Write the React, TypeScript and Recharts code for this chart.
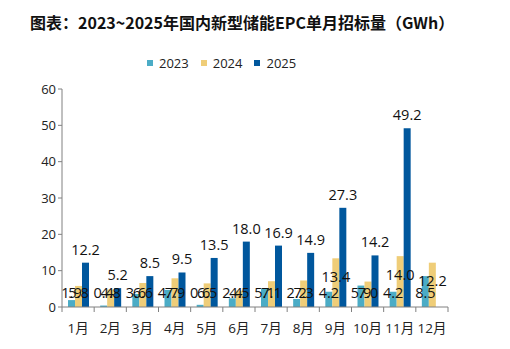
import { BarChart, Bar, XAxis, YAxis, LabelList } from 'recharts';

const months = ['1月', '2月', '3月', '4月', '5月', '6月', '7月', '8月', '9月', '10月', '11月', '12月'];
const y2023 = [1.9, 0.4, 3.6, 4.7, 0.6, 2.4, 5.1, 2.2, 4.2, 5.9, 4.2, 8.5];
const y2024 = [5.8, 4.8, 6.6, 7.9, 6.5, 4.5, 7.1, 7.3, 13.4, 7.0, 14.0, 12.2];
const y2025 = [12.2, 5.2, 8.5, 9.5, 13.5, 18.0, 16.9, 14.9, 27.3, 14.2, 49.2, null];
const yTicks = [0, 10, 20, 30, 40, 50, 60];

const series = [
  { key: 'y2023', name: '2023', color: '#4BACC6' },
  { key: 'y2024', name: '2024', color: '#EFCD78' },
  { key: 'y2025', name: '2025', color: '#00579D' },
];

const data = months.map((m, i) => ({ month: m, y2023: y2023[i], y2024: y2024[i], y2025: y2025[i] }));

const font = '"Open Sans", "Noto Sans CJK SC", sans-serif';

function MonthTick(props: any) {
  const { x, y, payload, index, visibleTicksCount } = props;
  const band = 386 / months.length;
  return (
    <g>
      <line x1={x - band / 2} x2={x - band / 2} y1={y - 8} y2={y - 3} stroke="#808080" />
      {index === visibleTicksCount - 1 && (
        <line x1={x + band / 2} x2={x + band / 2} y1={y - 8} y2={y - 3} stroke="#808080" />
      )}
      <text x={x} y={y + 18} textAnchor="middle" fontSize={13.5} fill="#222" fontFamily={font}>
        {payload.value}
      </text>
    </g>
  );
}

// labels for 2023/2024 sit a bit inside the bar, never lower than just above the base
function InnerLabel(props: any) {
  const { x, y, width, height, value } = props;
  if (value == null) return null;
  const cy = Math.min(y + 18, y + height - 15);
  return (
    <text x={x + width / 2} y={cy} textAnchor="middle" dominantBaseline="central"
      fontSize={14.5} fill="#111" fontFamily={font}>
      {Number(value).toFixed(1)}
    </text>
  );
}

export default function App() {
  return (
    <div style={{ position: 'absolute', left: 0, top: 0, width: 510, height: 349, background: '#fff' }}>
      <div
        style={{
          position: 'absolute', left: 30, top: 10, fontSize: 16, fontWeight: 'bold',
          fontFamily: '"Noto Sans CJK SC", sans-serif', color: '#111', whiteSpace: 'nowrap',
        }}
      >
        图表：2023~2025年国内新型储能EPC单月招标量（GWh）
      </div>
      <div
        style={{
          position: 'absolute', left: 147, top: 54, display: 'flex', gap: 12,
          fontSize: 13, fontFamily: font, color: '#222',
        }}
      >
        {series.map((s) => (
          <span key={s.key} style={{ display: 'flex', alignItems: 'center' }}>
            <span style={{ width: 6, height: 6, background: s.color, marginRight: 6, display: 'inline-block' }} />
            {s.name}
          </span>
        ))}
      </div>
      <BarChart
        width={510}
        height={349}
        data={data}
        margin={{ top: 89, right: 62, bottom: 12, left: 22 }}
        barGap={0}
        barSize={7}
      >
        <XAxis
          dataKey="month"
          axisLine={{ stroke: '#808080' }}
          tickLine={false}
          tick={<MonthTick />}
          height={30}
          interval={0}
        />
        <YAxis
          domain={[0, 60]}
          ticks={yTicks}
          width={40}
          axisLine={{ stroke: '#808080' }}
          tickLine={{ stroke: '#808080' }}
          tickSize={4}
          tick={{ fontSize: 13, fill: '#222', fontFamily: font }}
        />
        {series.map((s) => (
          <Bar key={s.key} dataKey={s.key} name={s.name} fill={s.color} isAnimationActive={false}>
            {s.key === 'y2025' ? (
              <LabelList
                dataKey={s.key}
                position="top"
                offset={8}
                formatter={(v: any) => (v == null ? '' : Number(v).toFixed(1))}
                style={{ fontSize: 14.5, fill: '#111', fontFamily: font }}
              />
            ) : (
              <LabelList dataKey={s.key} content={<InnerLabel />} />
            )}
          </Bar>
        ))}
      </BarChart>
    </div>
  );
}
